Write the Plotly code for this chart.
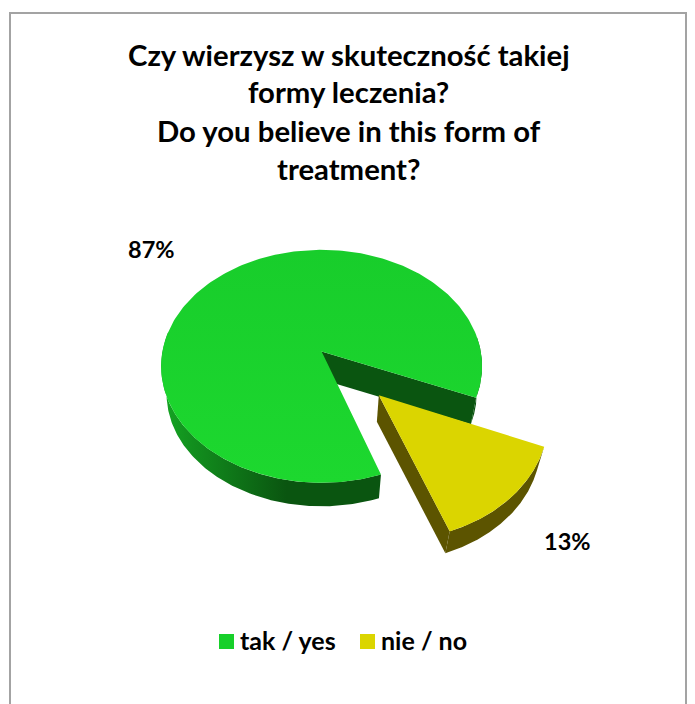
import numpy as np
import plotly.graph_objects as go

# ---- data ----
categories = ["tak / yes", "nie / no"]
values = [86.6, 13.4]
shown_percent = [87, 13]
title_lines = ["Czy wierzysz w skuteczność takiej", "formy leczenia?",
               "Do you believe in this form of", "treatment?"]

# ---- styling and projection of the tilted pie ----
FONT = "Lato"
TOP_COL = ["#19d22c", "#dbd500"]
PAGE_MARGIN = 8            # the page's own body margin
CX, CY = 321.6, 351.5      # pie centre on the page
F, G, K = 159.2, 114.6, 0.127   # horizontal scale, vertical scale, perspective
SHRINK, DROP = 0.966, 28.0  # lower plane relative to upper plane
EXPLODE = 0.5
ROT = 112.6  # degrees clockwise from 12 o'clock where 'nie / no' begins
KEY_X = [226.5, 367.5]     # centres of the key's swatches
KEY_Y = 641.5
KEY_GAP = 11.5             # swatch centre to start of its text
KEY_TEXT_LIFT = 1.5


def project(u, v, low=False):
    w = 1 - K * v
    sx, sy = F * u / w, G * v / w
    if low:
        sx, sy = sx * SHRINK, sy * SHRINK + DROP
    return CX + sx, CY + sy


def ground(deg, ox=0.0, oy=0.0):
    a = np.radians(deg)
    return ox + np.sin(a), oy - np.cos(a)


span = [v / sum(values) * 360 for v in values]
no_a0, no_a1 = ROT, ROT + span[1]
yes_a0, yes_a1 = no_a1, ROT + 360
mid = np.radians((no_a0 + no_a1) / 2)
ox, oy = EXPLODE * np.sin(mid), -EXPLODE * np.cos(mid)

fig = go.Figure()


def poly(x, y, color=None, grad=None):
    x = list(x) + [x[0]]
    y = list(y) + [y[0]]
    kw = dict(fillgradient=grad) if grad else dict(fillcolor=color)
    fig.add_trace(go.Scatter(x=x, y=y, mode="lines", fill="toself", line=dict(width=0),
                             hoverinfo="skip", showlegend=False, **kw))


def top_face(a0, a1, color, ox=0.0, oy=0.0, grad=None):
    th = np.linspace(a0, a1, 240)
    u, v = ground(th, ox, oy)
    x, y = project(u, v)
    ax, ay = project(ox, oy)
    poly(np.r_[ax, x], np.r_[ay, y], color, grad)


def rim_wall(a0, a1, color, ox=0.0, oy=0.0, grad=None):
    th = np.linspace(a0, a1, 160)
    u, v = ground(th, ox, oy)
    x, y = project(u, v)
    xl, yl = project(u, v, True)
    poly(np.r_[x, xl[::-1]], np.r_[y, yl[::-1]], color, grad)


def cut_wall(angle, color, ox=0.0, oy=0.0):
    u, v = ground(angle, ox, oy)
    x1, y1 = project(ox, oy)
    x2, y2 = project(u, v)
    x3, y3 = project(u, v, True)
    x4, y4 = project(ox, oy, True)
    poly([x1, x2, x3, x4], [y1, y2, y3, y4], color)


GREEN_WALL = dict(type="horizontal", start=166, stop=385,
                  colorscale=[[0, "#14a322"], [0.12, "#128f1e"], [0.55, "#0a5510"], [1, "#0a5510"]])

# green slice: back cut wall, visible rim wall, top face
cut_wall(yes_a1, "#0a5510")
rim_wall(yes_a1 - 30, yes_a1, "#0a5510")
rim_wall(yes_a0, 280, None, grad=GREEN_WALL)
top_face(yes_a0, yes_a1, TOP_COL[0], grad=dict(
    type="vertical", start=250, stop=483,
    colorscale=[[0, "#18cd2b"], [1, "#1dd82f"]]))

# exploded yellow slice
cut_wall(no_a1, "#5c5400", ox, oy)
rim_wall(no_a0, no_a1, "#5c5400", ox, oy)
top_face(no_a0, no_a1, TOP_COL[1], ox, oy)

notes = []

# key: swatch and name for each category
for name, col, kx in zip(categories, ["#17d02a", "#dbd500"], KEY_X):
    fig.add_trace(go.Scatter(x=[kx], y=[KEY_Y], mode="markers", name=name,
                             marker=dict(symbol="square", size=15, color=col),
                             showlegend=False, hoverinfo="name"))
    notes.append(dict(x=kx + KEY_GAP, y=KEY_Y - KEY_TEXT_LIFT, text=f"<b>{name}</b>",
                      showarrow=False, xanchor="left",
                      font=dict(family=FONT, size=25, color="#000000")))

for txt, y in zip(title_lines, [54.5, 91.5, 130, 168.5]):
    notes.append(dict(x=348.5, y=y, text=f"<b>{txt}</b>", showarrow=False,
                      font=dict(family=FONT, size=29.3, color="#000000")))
for pct, (x, y) in zip(shown_percent, [(151, 248.5), (567, 541)]):
    notes.append(dict(x=x, y=y, text=f"<b>{pct}%</b>", showarrow=False,
                      font=dict(family=FONT, size=23.5, color="#000000")))

W, H = 695 - PAGE_MARGIN, 704 - PAGE_MARGIN
fig.update_layout(
    width=W, height=H, margin=dict(l=0, r=0, t=0, b=0),
    paper_bgcolor="#ffffff", plot_bgcolor="#ffffff",
    xaxis=dict(range=[PAGE_MARGIN, 695], visible=False, fixedrange=True),
    yaxis=dict(range=[704, PAGE_MARGIN], visible=False, fixedrange=True),
    showlegend=False,
    annotations=notes,
    shapes=[dict(type="rect", xref="x", yref="y", x0=10, y0=13, x1=686, y1=740,
                 line=dict(color="#a3a3a3", width=2), layer="below")],
)
fig.write_html("out.html")
